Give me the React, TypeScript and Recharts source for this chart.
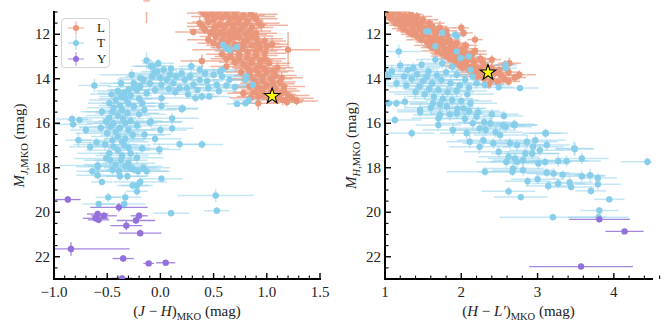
import { ErrorBar, Legend, Scatter, ScatterChart, XAxis, YAxis } from "recharts"

// [colour, abs mag, colour err, mag err]
type Pt = [number, number, number, number]

const serif = "'Liberation Serif', 'DejaVu Serif', serif"

const colL = "#e9967a"
const colT = "#87ceeb"
const colY = "#9370db"
const errL = "rgba(233,150,122,0.7)"
const errT = "rgba(135,206,235,0.5)"
const errY = "rgba(147,112,219,0.85)"

// ---- (J-H) vs M_J ----
const lJH: Pt[] = [
  [-0.13, 10.5, 0.03, 1.0],
  [0.40, 11.05, 0.15, 0.2], [0.48, 11.1, 0.12, 0.15], [0.55, 11.0, 0.2, 0.2], [0.62, 11.1, 0.15, 0.2],
  [0.70, 11.05, 0.18, 0.25], [0.78, 11.15, 0.2, 0.2], [0.85, 11.1, 0.25, 0.3], [0.58, 11.25, 0.12, 0.15],
  [0.66, 11.3, 0.15, 0.2], [0.74, 11.35, 0.2, 0.2], [0.50, 11.35, 0.1, 0.15], [0.37, 11.5, 0.12, 0.3],
  [0.45, 11.45, 0.15, 0.2], [0.82, 11.4, 0.15, 0.25], [0.90, 11.3, 0.2, 0.3],
  [0.31, 11.9, 0.17, 0.15], [0.42, 11.8, 0.15, 0.2], [0.52, 11.65, 0.12, 0.15], [0.60, 11.7, 0.15, 0.2],
  [0.68, 11.6, 0.2, 0.2], [0.76, 11.75, 0.18, 0.25], [0.86, 11.7, 0.2, 0.2], [0.95, 11.6, 0.25, 0.3],
  [0.47, 11.95, 0.12, 0.15], [0.56, 11.9, 0.15, 0.2], [0.64, 11.95, 0.15, 0.2], [0.72, 11.9, 0.18, 0.25],
  [0.80, 12.0, 0.2, 0.2], [0.90, 11.95, 0.2, 0.3],
  [0.45, 12.25, 0.2, 0.2], [0.52, 12.1, 0.15, 0.2], [0.58, 12.3, 0.12, 0.2], [0.66, 12.2, 0.15, 0.2],
  [0.74, 12.15, 0.2, 0.25], [0.82, 12.25, 0.18, 0.2], [0.90, 12.2, 0.25, 0.3], [0.98, 12.3, 0.2, 0.2],
  [0.55, 12.5, 0.12, 0.2], [0.62, 12.6, 0.15, 0.2], [0.70, 12.45, 0.2, 0.2], [0.78, 12.55, 0.18, 0.25],
  [0.86, 12.5, 0.2, 0.2], [0.94, 12.6, 0.2, 0.25], [1.05, 12.45, 0.15, 0.3], [1.20, 12.7, 0.9, 0.8],
  [0.39, 13.2, 0.2, 0.3], [0.58, 12.9, 0.15, 0.2], [0.66, 13.0, 0.15, 0.2], [0.74, 12.9, 0.2, 0.2],
  [0.82, 13.05, 0.2, 0.25], [0.90, 12.95, 0.2, 0.2], [0.98, 13.1, 0.2, 0.25], [0.70, 13.25, 0.15, 0.2],
  [0.78, 13.35, 0.15, 0.2], [0.86, 13.3, 0.2, 0.2], [0.94, 13.4, 0.25, 0.3], [1.02, 13.3, 0.2, 0.25],
  [1.10, 13.5, 0.15, 0.25], [0.62, 13.45, 0.15, 0.2],
  [0.76, 13.7, 0.15, 0.2], [0.84, 13.65, 0.15, 0.2], [0.92, 13.8, 0.2, 0.25], [1.00, 13.7, 0.2, 0.2],
  [1.08, 13.85, 0.2, 0.3], [0.80, 14.0, 0.15, 0.2], [0.88, 14.05, 0.2, 0.25], [0.96, 14.1, 0.2, 0.2],
  [1.04, 14.0, 0.2, 0.25], [1.12, 14.15, 0.15, 0.2], [0.84, 14.35, 0.15, 0.2], [0.92, 14.4, 0.2, 0.25],
  [1.00, 14.3, 0.2, 0.2], [1.08, 14.45, 0.2, 0.25],
  [0.78, 14.65, 0.15, 0.2], [0.88, 14.6, 0.2, 0.2], [0.96, 14.7, 0.2, 0.25], [1.12, 14.7, 0.15, 0.2],
  [1.20, 14.75, 0.2, 0.2], [0.92, 15.1, 0.2, 0.3], [1.15, 14.95, 0.2, 0.25], [1.19, 15.05, 0.15, 0.2],
  [1.28, 15.0, 0.2, 0.2], [0.85, 14.85, 0.2, 0.2], [1.02, 14.9, 0.15, 0.2],
  [0.44, 11.2, 0.15, 0.2], [0.52, 11.22, 0.12, 0.2], [0.70, 11.22, 0.15, 0.2], [0.88, 11.2, 0.2, 0.25],
  [0.40, 11.65, 0.15, 0.2], [0.56, 11.55, 0.12, 0.2], [0.72, 11.5, 0.15, 0.2], [0.64, 11.5, 0.15, 0.2],
  [0.80, 11.55, 0.2, 0.25], [0.92, 11.5, 0.2, 0.2], [0.50, 11.82, 0.12, 0.15], [0.68, 11.8, 0.15, 0.2],
  [0.84, 11.85, 0.2, 0.2], [0.60, 12.05, 0.15, 0.2], [0.70, 12.05, 0.15, 0.2], [0.86, 12.08, 0.2, 0.2],
  [0.50, 12.4, 0.15, 0.2], [0.62, 12.38, 0.15, 0.2], [0.78, 12.38, 0.2, 0.2], [0.92, 12.4, 0.2, 0.25],
  [1.00, 12.55, 0.2, 0.2], [0.66, 12.75, 0.15, 0.2], [0.74, 12.72, 0.15, 0.2], [0.82, 12.78, 0.2, 0.2],
  [0.90, 12.75, 0.2, 0.2], [0.98, 12.85, 0.2, 0.25], [0.62, 13.1, 0.15, 0.2], [0.74, 13.12, 0.15, 0.2],
  [0.86, 13.15, 0.2, 0.2], [0.94, 13.2, 0.2, 0.25], [0.82, 13.5, 0.15, 0.2], [0.90, 13.55, 0.2, 0.2],
  [0.98, 13.55, 0.2, 0.2], [1.06, 13.65, 0.2, 0.25], [0.84, 13.85, 0.15, 0.2], [0.96, 13.9, 0.2, 0.2],
  [1.14, 13.95, 0.2, 0.25], [0.90, 14.2, 0.15, 0.2], [1.06, 14.22, 0.2, 0.2], [1.16, 14.35, 0.2, 0.2],
  [0.96, 14.5, 0.2, 0.2], [1.04, 14.6, 0.2, 0.2], [1.16, 14.55, 0.15, 0.2], [0.92, 14.8, 0.2, 0.2],
  [1.10, 14.85, 0.2, 0.25], [1.24, 14.88, 0.2, 0.2],
]

const tJH: Pt[] = [
  [0.62, 12.62, 0.12, 0.15], [0.72, 12.57, 0.1, 0.12], [0.65, 12.72, 0.1, 0.15], [0.59, 12.47, 0.08, 0.12],
  [0.58, 13.6, 0.15, 0.2], [0.58, 13.9, 0.2, 0.15], [0.65, 14.05, 0.15, 0.2], [0.53, 14.27, 0.2, 0.15],
  [0.45, 14.42, 0.25, 0.2], [0.37, 14.05, 0.18, 0.15], [0.31, 14.27, 0.2, 0.2], [0.25, 14.42, 0.25, 0.15],
  [0.23, 14.05, 0.15, 0.2], [0.15, 13.9, 0.2, 0.3], [0.12, 14.2, 0.3, 0.2], [0.06, 14.05, 0.15, 0.15],
  [0.0, 13.97, 0.2, 0.2], [-0.03, 13.67, 0.15, 0.3], [0.03, 13.6, 0.12, 0.2], [-0.07, 13.44, 0.2, 0.25],
  [-0.02, 13.3, 0.15, 0.2], [0.01, 14.27, 0.25, 0.2], [0.29, 13.44, 0.12, 0.3], [0.37, 13.6, 0.2, 0.2],
  [0.42, 13.75, 0.15, 0.2], [0.50, 13.82, 0.25, 0.3], [0.56, 13.67, 0.15, 0.2], [0.28, 13.9, 0.2, 0.2],
  [0.20, 13.75, 0.15, 0.25], [0.09, 13.82, 0.2, 0.2], [-0.10, 14.2, 0.2, 0.2], [-0.16, 14.05, 0.25, 0.2],
  [-0.19, 14.35, 0.2, 0.15], [-0.27, 13.82, 0.3, 0.25], [-0.25, 14.2, 0.2, 0.2], [-0.22, 14.5, 0.25, 0.2],
  [-0.13, 14.65, 0.3, 0.2], [0.01, 14.87, 0.2, 0.2], [0.18, 14.42, 0.2, 0.15], [0.39, 14.8, 0.15, 0.2],
  [0.33, 14.87, 0.12, 0.2], [0.46, 14.8, 0.2, 0.15], [0.72, 15.13, 0.1, 0.15], [0.80, 15.1, 0.12, 0.15],
  [0.83, 14.95, 0.15, 0.2], [0.70, 14.38, 0.2, 0.2], [0.87, 14.27, 0.15, 0.2], [0.80, 14.05, 0.15, 0.2],
  [0.81, 13.9, 0.2, 0.25], [-0.13, 13.18, 0.05, 0.4], [-0.62, 14.3, 0.15, 0.3],
  [0.14, 14.6, 0.2, 0.2], [0.26, 14.7, 0.25, 0.2], [-0.05, 14.5, 0.3, 0.2], [0.08, 14.45, 0.2, 0.2],
  [0.35, 14.5, 0.2, 0.15], [0.55, 14.55, 0.15, 0.2], [0.62, 14.3, 0.2, 0.2], [0.44, 14.1, 0.15, 0.15],
  [0.10, 13.55, 0.2, 0.2], [-0.08, 13.9, 0.25, 0.2],
  [-0.19, 13.97, 0.2, 0.2], [-0.09, 13.44, 0.15, 0.25], [-0.06, 13.75, 0.2, 0.2], [-0.37, 14.2, 0.2, 0.2],
  [-0.25, 14.35, 0.25, 0.2], [-0.30, 14.5, 0.2, 0.2], [-0.34, 14.65, 0.25, 0.2], [-0.37, 14.8, 0.2, 0.2],
  [-0.42, 14.95, 0.25, 0.25], [-0.48, 15.1, 0.2, 0.2], [-0.45, 15.48, 0.25, 0.2], [-0.55, 15.48, 0.2, 0.2],
  [-0.51, 15.93, 0.25, 0.25], [-0.31, 15.55, 0.3, 0.2], [-0.25, 15.25, 0.2, 0.2], [-0.17, 15.1, 0.25, 0.2],
  [-0.09, 15.93, 0.3, 0.25], [0.0, 16.3, 0.25, 0.2], [0.11, 16.23, 0.2, 0.2], [0.11, 15.78, 0.25, 0.25],
  [0.21, 15.33, 0.15, 0.2], [-0.01, 17.18, 0.2, 0.25], [-0.26, 16.53, 0.3, 0.25], [-0.36, 16.83, 0.25, 0.25],
  [-0.40, 17.21, 0.3, 0.25], [-0.17, 17.13, 0.25, 0.2], [-0.28, 17.36, 0.3, 0.3], [-0.47, 17.66, 0.25, 0.25],
  [-0.59, 17.96, 0.2, 0.25], [-0.51, 17.58, 0.3, 0.25], [-0.37, 17.66, 0.25, 0.3], [-0.33, 16.0, 0.3, 0.2],
  [-0.42, 16.38, 0.25, 0.2], [-0.45, 16.76, 0.3, 0.25], [-0.34, 16.98, 0.25, 0.25], [-0.47, 16.16, 0.3, 0.2],
  [-0.10, 15.96, 0.3, 0.2], [0.20, 15.36, 0.15, 0.2], [0.01, 15.22, 0.2, 0.2], [0.39, 16.95, 0.2, 0.2],
  [0.18, 16.94, 0.25, 0.2],
  [-0.40, 14.55, 0.2, 0.2], [-0.33, 14.9, 0.25, 0.2], [-0.38, 15.2, 0.2, 0.2], [-0.44, 15.3, 0.25, 0.25],
  [-0.36, 15.4, 0.2, 0.2], [-0.30, 15.1, 0.25, 0.2], [-0.40, 15.65, 0.3, 0.25], [-0.48, 15.75, 0.25, 0.2],
  [-0.35, 15.8, 0.2, 0.2], [-0.28, 15.9, 0.3, 0.25], [-0.44, 16.0, 0.25, 0.2], [-0.38, 16.2, 0.2, 0.25],
  [-0.30, 16.3, 0.25, 0.2], [-0.50, 16.45, 0.3, 0.25], [-0.40, 16.6, 0.25, 0.2], [-0.33, 16.7, 0.2, 0.25],
  [-0.52, 16.95, 0.3, 0.25], [-0.44, 17.05, 0.25, 0.2], [-0.30, 17.1, 0.2, 0.25], [-0.48, 17.35, 0.3, 0.3],
  [-0.36, 17.45, 0.25, 0.25], [-0.22, 17.55, 0.25, 0.25], [-0.42, 17.85, 0.3, 0.25], [-0.30, 17.8, 0.25, 0.25],
  [-0.20, 15.6, 0.25, 0.2], [-0.22, 16.1, 0.3, 0.25], [-0.15, 16.5, 0.25, 0.2], [-0.56, 16.2, 0.2, 0.2],
  [-0.28, 14.75, 0.2, 0.2], [-0.20, 14.9, 0.25, 0.2], [-0.46, 14.7, 0.2, 0.2], [-0.15, 15.4, 0.3, 0.25],
  [-0.05, 16.7, 0.25, 0.2],
  [-0.83, 15.81, 0.15, 0.2], [-0.76, 15.85, 0.12, 0.15], [-0.82, 16.05, 0.18, 0.2], [-0.70, 16.3, 0.15, 0.2],
  [-0.77, 16.76, 0.12, 0.3], [-0.60, 16.86, 0.15, 0.2], [-0.66, 17.06, 0.2, 0.2],
  [-0.64, 18.16, 0.15, 0.2], [-0.59, 17.9, 0.35, 0.2], [-0.39, 18.16, 0.3, 0.2], [-0.33, 17.93, 0.35, 0.25],
  [-0.25, 18.08, 0.25, 0.2], [-0.21, 18.16, 0.3, 0.2], [-0.13, 18.16, 0.2, 0.2], [-0.38, 18.38, 0.25, 0.2],
  [-0.31, 18.38, 0.2, 0.2], [-0.55, 18.64, 0.1, 0.15], [-0.19, 18.64, 0.25, 0.2], [0.01, 18.49, 0.2, 0.15],
  [-0.26, 18.8, 0.15, 0.2], [-0.22, 18.8, 0.15, 0.2], [-0.22, 19.06, 0.1, 0.2], [-0.49, 19.33, 0.12, 0.2],
  [-0.33, 19.33, 0.15, 0.25], [-0.58, 19.63, 0.15, 0.15], [-0.34, 19.63, 0.2, 0.25], [0.52, 19.25, 0.36, 0.3],
  [0.53, 19.93, 0.12, 0.15], [0.10, 20.04, 0.17, 0.15], [-0.16, 18.0, 0.25, 0.2], [-0.45, 18.1, 0.2, 0.2],
  [-0.28, 18.0, 0.25, 0.2], [-0.59, 18.34, 0.2, 0.2],
]

const yJH: Pt[] = [
  [-0.87, 19.43, 0.12, 0.15], [-0.59, 20.08, 0.1, 0.15], [-0.61, 20.27, 0.12, 0.15], [-0.58, 20.34, 0.1, 0.15],
  [-0.53, 20.16, 0.12, 0.15], [-0.39, 19.78, 0.27, 0.2], [-0.20, 20.16, 0.08, 0.15], [-0.23, 20.37, 0.18, 0.15],
  [-0.32, 20.6, 0.15, 0.2], [-0.19, 20.94, 0.2, 0.15], [-0.84, 21.65, 0.55, 0.3], [-0.35, 22.08, 0.1, 0.15],
  [-0.11, 22.3, 0.05, 0.1], [0.05, 22.27, 0.09, 0.1], [-0.36, 22.97, 0.1, 0.15],
]

const starJH = [{ x: 1.05, y: 14.78 }]

// ---- (H-L') vs M_H ----
const lHL: Pt[] = [
  [1.02, 11.05, 0.15, 0.2], [1.10, 11.1, 0.2, 0.2], [1.18, 11.0, 0.15, 0.25], [1.26, 11.15, 0.2, 0.2],
  [1.34, 11.1, 0.15, 0.2], [1.42, 11.2, 0.2, 0.25], [1.08, 11.3, 0.15, 0.2], [1.16, 11.35, 0.2, 0.2],
  [1.24, 11.4, 0.15, 0.25], [1.32, 11.3, 0.2, 0.2], [1.40, 11.45, 0.15, 0.2], [1.50, 11.35, 0.2, 0.25],
  [1.20, 11.6, 0.15, 0.2], [1.28, 11.55, 0.2, 0.2], [1.36, 11.65, 0.15, 0.25], [1.44, 11.6, 0.2, 0.2],
  [1.52, 11.7, 0.15, 0.2], [1.62, 11.65, 0.2, 0.25], [1.30, 11.85, 0.15, 0.2], [1.40, 11.9, 0.2, 0.2],
  [1.48, 11.8, 0.15, 0.25], [1.56, 11.95, 0.2, 0.2], [1.66, 11.9, 0.15, 0.2], [1.72, 11.71, 0.2, 0.3],
  [1.80, 11.85, 0.15, 0.2],
  [1.42, 12.1, 0.15, 0.2], [1.50, 12.05, 0.2, 0.2], [1.58, 12.15, 0.15, 0.25], [1.66, 12.1, 0.2, 0.2],
  [1.74, 12.2, 0.15, 0.2], [1.81, 12.02, 0.2, 0.3], [2.03, 11.94, 0.12, 0.2], [2.0, 11.71, 0.1, 0.2],
  [1.55, 12.35, 0.15, 0.2], [1.63, 12.3, 0.2, 0.2], [1.71, 12.4, 0.15, 0.25], [1.79, 12.35, 0.2, 0.2],
  [1.88, 12.45, 0.15, 0.2], [1.94, 12.39, 0.12, 0.25], [2.18, 12.24, 0.1, 0.2],
  [1.62, 12.6, 0.15, 0.2], [1.70, 12.55, 0.2, 0.2], [1.78, 12.65, 0.15, 0.25], [1.86, 12.6, 0.2, 0.2],
  [1.94, 12.7, 0.15, 0.2], [2.02, 12.65, 0.2, 0.25], [1.74, 12.85, 0.15, 0.2], [1.82, 12.9, 0.2, 0.2],
  [1.90, 12.8, 0.15, 0.25], [1.98, 12.95, 0.2, 0.2], [2.06, 12.85, 0.15, 0.2], [2.14, 12.9, 0.2, 0.25],
  [1.85, 13.1, 0.15, 0.2], [1.93, 13.05, 0.2, 0.2], [2.01, 13.2, 0.15, 0.25], [2.09, 13.15, 0.2, 0.2],
  [2.17, 13.25, 0.15, 0.2], [2.25, 13.1, 0.2, 0.25], [2.40, 13.14, 0.12, 0.2], [2.57, 13.37, 0.12, 0.2],
  [2.63, 13.3, 0.15, 0.25], [1.98, 13.4, 0.2, 0.2], [2.06, 13.35, 0.15, 0.2], [2.14, 13.45, 0.2, 0.25],
  [2.22, 13.5, 0.15, 0.2], [2.30, 13.4, 0.2, 0.2],
  [2.10, 13.6, 0.15, 0.2], [2.18, 13.7, 0.2, 0.25], [2.26, 13.65, 0.15, 0.2], [2.34, 13.8, 0.2, 0.2],
  [2.44, 13.75, 0.15, 0.25], [2.52, 13.85, 0.2, 0.2], [2.62, 13.7, 0.15, 0.2], [2.76, 13.82, 0.22, 0.2],
  [2.20, 13.9, 0.2, 0.2], [2.30, 14.0, 0.15, 0.25], [2.40, 14.05, 0.2, 0.2], [2.48, 14.15, 0.15, 0.2],
  [2.62, 14.12, 0.15, 0.2], [2.36, 14.25, 0.2, 0.2],
  [1.06, 11.2, 0.15, 0.2], [1.22, 11.25, 0.2, 0.2], [1.38, 11.3, 0.15, 0.2], [1.14, 11.5, 0.15, 0.2],
  [1.30, 11.45, 0.2, 0.2], [1.46, 11.5, 0.15, 0.25], [1.58, 11.5, 0.2, 0.2], [1.24, 11.75, 0.15, 0.2],
  [1.36, 11.78, 0.2, 0.2], [1.46, 11.7, 0.15, 0.2], [1.60, 11.8, 0.2, 0.2], [1.70, 11.8, 0.15, 0.25],
  [1.36, 12.0, 0.15, 0.2], [1.48, 12.25, 0.2, 0.2], [1.60, 12.22, 0.15, 0.2], [1.70, 12.28, 0.2, 0.2],
  [1.84, 12.25, 0.15, 0.25], [1.58, 12.5, 0.2, 0.2], [1.74, 12.48, 0.15, 0.2], [1.90, 12.55, 0.2, 0.2],
  [2.06, 12.5, 0.15, 0.2], [1.68, 12.75, 0.2, 0.2], [1.86, 12.75, 0.15, 0.2], [2.02, 12.78, 0.2, 0.25],
  [2.18, 12.75, 0.15, 0.2], [1.80, 12.98, 0.2, 0.2], [1.96, 13.0, 0.15, 0.2], [2.12, 13.05, 0.2, 0.2],
  [2.28, 13.25, 0.15, 0.2], [1.92, 13.25, 0.2, 0.2], [2.40, 13.5, 0.2, 0.25], [2.50, 13.6, 0.15, 0.2],
  [2.02, 13.5, 0.2, 0.2], [2.26, 13.85, 0.15, 0.2], [2.56, 14.0, 0.2, 0.2], [2.70, 13.95, 0.15, 0.2],
  [2.16, 13.8, 0.2, 0.2],
]

const tHL: Pt[] = [
  [1.57, 11.87, 0.1, 0.15], [1.75, 11.94, 0.1, 0.15], [1.92, 12.02, 0.12, 0.15], [1.66, 12.54, 0.15, 0.2],
  [1.94, 12.77, 0.12, 0.15], [1.99, 13.07, 0.15, 0.2], [2.10, 13.0, 0.12, 0.2], [1.18, 12.77, 0.3, 0.3],
  [1.54, 11.87, 0.1, 0.15], [1.94, 12.09, 0.1, 0.15],
  [1.02, 13.82, 0.3, 0.3], [1.09, 13.67, 0.25, 0.3], [1.04, 13.9, 0.2, 0.2], [1.37, 13.52, 0.35, 0.25],
  [1.48, 13.37, 0.3, 0.2], [1.57, 13.67, 0.4, 0.25], [1.66, 13.14, 0.25, 0.2], [1.75, 13.3, 0.3, 0.25],
  [1.88, 13.45, 0.35, 0.2], [1.94, 13.82, 0.3, 0.25], [2.05, 14.05, 0.35, 0.2], [2.12, 13.6, 0.25, 0.2],
  [2.58, 13.37, 0.15, 0.2], [2.58, 13.52, 0.15, 0.2], [2.31, 14.27, 0.3, 0.2], [2.49, 14.38, 0.2, 0.15],
  [2.77, 14.42, 0.25, 0.15], [1.15, 15.1, 0.15, 0.2], [1.26, 15.03, 0.3, 0.25], [1.46, 15.4, 0.3, 0.3],
  [1.13, 15.85, 0.35, 0.2], [1.35, 16.45, 0.3, 0.2], [1.70, 15.78, 0.35, 0.3], [1.70, 16.08, 0.3, 0.25],
  [2.56, 15.67, 0.25, 0.2], [2.69, 16.08, 0.3, 0.2], [2.58, 16.16, 0.35, 0.25], [3.10, 16.45, 0.3, 0.2],
  [3.12, 16.98, 0.3, 0.25], [3.48, 17.13, 0.25, 0.3], [3.58, 17.58, 0.35, 0.25], [2.97, 16.76, 0.4, 0.25],
  [2.93, 17.36, 0.35, 0.25], [4.44, 17.73, 0.35, 0.2],
  [1.46, 15.48, 0.3, 0.2], [1.72, 15.63, 0.35, 0.25], [1.89, 16.3, 0.4, 0.3], [2.07, 16.45, 0.35, 0.25],
  [2.11, 16.83, 0.3, 0.3], [2.24, 16.23, 0.4, 0.25], [2.29, 16.76, 0.35, 0.25], [2.42, 16.9, 0.4, 0.25],
  [2.51, 16.53, 0.35, 0.3], [2.70, 16.08, 0.3, 0.2], [2.49, 17.28, 0.45, 0.25], [2.62, 17.51, 0.4, 0.25],
  [2.73, 17.73, 0.35, 0.3], [2.68, 18.03, 0.4, 0.25], [2.31, 18.18, 0.5, 0.2], [2.62, 19.06, 0.35, 0.2],
  [2.24, 17.06, 0.4, 0.3], [1.94, 15.55, 0.35, 0.25], [2.03, 15.33, 0.3, 0.25], [2.20, 15.7, 0.4, 0.3],
  [2.38, 16.0, 0.35, 0.25], [1.81, 15.25, 0.35, 0.3], [1.63, 15.1, 0.3, 0.3],
  [2.55, 16.11, 0.3, 0.2], [2.70, 16.04, 0.25, 0.2], [3.11, 16.45, 0.2, 0.2], [3.49, 17.16, 0.25, 0.3],
  [3.38, 17.7, 0.45, 0.25], [3.27, 17.7, 0.4, 0.25], [3.69, 18.34, 0.2, 0.3], [3.58, 18.38, 0.3, 0.25],
  [3.79, 18.46, 0.25, 0.2], [3.79, 18.74, 0.3, 0.25], [3.70, 19.04, 0.2, 0.2], [3.94, 19.42, 0.2, 0.15],
  [3.81, 19.92, 0.25, 0.15], [3.80, 20.22, 0.4, 0.15], [3.20, 20.22, 0.7, 0.15], [2.78, 19.32, 0.35, 0.15],
  [3.44, 18.86, 0.3, 0.2], [3.42, 18.66, 0.3, 0.3], [3.27, 18.71, 0.35, 0.2], [3.14, 18.82, 0.3, 0.2],
  [3.0, 18.52, 0.35, 0.2], [2.87, 18.61, 0.3, 0.2], [3.33, 18.31, 0.35, 0.2], [3.21, 18.26, 0.35, 0.25],
  [3.12, 18.22, 0.3, 0.2], [2.81, 18.11, 0.4, 0.25], [2.67, 18.18, 0.45, 0.2], [3.01, 17.81, 0.4, 0.25],
  [3.10, 17.74, 0.35, 0.2], [2.81, 17.66, 0.4, 0.3], [2.70, 17.58, 0.35, 0.25], [2.59, 17.74, 0.4, 0.25],
  [2.84, 17.36, 0.45, 0.25], [3.03, 17.21, 0.4, 0.25], [2.73, 16.98, 0.35, 0.25], [2.86, 16.83, 0.4, 0.3],
  [2.64, 16.9, 0.35, 0.25], [2.94, 17.06, 0.4, 0.25],
  [1.30, 13.6, 0.35, 0.25], [1.42, 13.8, 0.4, 0.25], [1.55, 13.9, 0.35, 0.25], [1.68, 13.85, 0.4, 0.3],
  [1.80, 13.7, 0.35, 0.25], [1.35, 14.0, 0.4, 0.25], [1.50, 14.1, 0.35, 0.3], [1.62, 14.2, 0.4, 0.25],
  [1.74, 14.05, 0.35, 0.25], [1.86, 14.2, 0.4, 0.3], [1.98, 14.3, 0.35, 0.25], [1.45, 14.35, 0.4, 0.25],
  [1.58, 14.45, 0.35, 0.3], [1.70, 14.5, 0.4, 0.25], [1.82, 14.6, 0.35, 0.25], [1.94, 14.55, 0.4, 0.3],
  [2.08, 14.7, 0.35, 0.25], [1.52, 14.7, 0.4, 0.25], [1.64, 14.8, 0.35, 0.3], [1.76, 14.9, 0.4, 0.25],
  [1.88, 14.95, 0.35, 0.25], [2.00, 15.0, 0.4, 0.3], [2.12, 15.1, 0.35, 0.25], [1.72, 15.15, 0.4, 0.25],
  [1.95, 15.35, 0.35, 0.3], [2.10, 15.45, 0.4, 0.25], [2.22, 15.5, 0.35, 0.25], [1.85, 15.6, 0.4, 0.3],
  [2.05, 15.8, 0.35, 0.25], [2.15, 16.0, 0.4, 0.25], [2.30, 15.95, 0.35, 0.3], [2.32, 16.3, 0.4, 0.25],
  [2.45, 16.4, 0.35, 0.25], [1.25, 13.9, 0.35, 0.25], [1.15, 14.2, 0.3, 0.25], [1.40, 14.6, 0.35, 0.3],
  [1.28, 14.3, 0.3, 0.25], [2.20, 14.2, 0.35, 0.25], [2.10, 14.4, 0.3, 0.25], [1.60, 15.3, 0.35, 0.3],
  [2.40, 15.6, 0.35, 0.25], [2.15, 13.9, 0.3, 0.2], [1.20, 13.4, 0.3, 0.25], [1.05, 15.1, 0.2, 0.2],
]

const yHL: Pt[] = [
  [3.81, 20.32, 0.4, 0.1], [4.14, 20.86, 0.25, 0.1], [3.57, 22.44, 0.68, 0.1],
]

const starHL = [{ x: 2.35, y: 13.72 }]

// ---- axes ----
const jhMajor = [-1, -0.5, 0, 0.5, 1, 1.5]
const hlMajor = [1, 2, 3, 4]
const magMajor = [12, 14, 16, 18, 20, 22]
const magDomain = [11, 23]

const steps = (lo: number, hi: number, step: number) =>
  Array.from({ length: Math.round((hi - lo) / step) + 1 }, (_, i) => +(lo + i * step).toFixed(3))

// asymmetric [below, above] errors, cut at the frame like the points are
const cut = (v: number, e: number, lo: number, hi: number) => [Math.min(e, v - lo), Math.min(e, hi - v)]

const rows = (pts: Pt[], xd: number[]) =>
  pts.map(([x, y, xe, ye]) => ({
    x,
    y,
    xErr: cut(x, xe, xd[0], xd[1]),
    yErr: cut(y, ye, magDomain[0], magDomain[1]),
  }))

const fmtJH = (v: number) => v.toFixed(1).replace("-", "\u2212")
const fmtInt = (v: number) => String(v)

function AxisTick(props: any) {
  const { x, y, payload, side, majors, fmt } = props
  const v = payload.value
  const major = majors.some((m: number) => Math.abs(m - v) < 1e-6)
  const len = major ? 6 : 3.5
  const sw = major ? 1.4 : 1.1
  let end = { x2: x, y2: y - len }
  if (side === "top") end = { x2: x, y2: y + len }
  if (side === "left") end = { x2: x + len, y2: y }
  if (side === "right") end = { x2: x - len, y2: y }
  const txt = { fontFamily: serif, fontSize: 15, fill: "#222" }
  return (
    <g>
      <line x1={x} y1={y} {...end} stroke="#000" strokeWidth={sw} />
      {major && side === "bottom" && (
        <text x={x} y={y + 18} textAnchor="middle" style={txt}>
          {fmt(v)}
        </text>
      )}
      {major && side === "left" && (
        <text x={x - 4} y={y + 5} textAnchor="end" style={txt}>
          {fmt(v)}
        </text>
      )}
    </g>
  )
}

function XLab(props: any) {
  const { viewBox, a, b } = props
  return (
    <text x={viewBox.x + viewBox.width / 2} y={viewBox.y + 37} textAnchor="middle"
      style={{ fontFamily: serif, fontSize: 15, fill: "#222" }}>
      <tspan>(</tspan>
      <tspan fontStyle="italic">{a}</tspan>
      <tspan> {"\u2212"} </tspan>
      <tspan fontStyle="italic">{b}</tspan>
      <tspan>)</tspan>
      <tspan fontSize={10.5} dy={3.5}>MKO</tspan>
      <tspan dy={-3.5}> (mag)</tspan>
    </text>
  )
}

function YLab(props: any) {
  const { viewBox, band } = props
  const x = viewBox.x + 24
  const y = viewBox.y + viewBox.height / 2
  return (
    <text x={x} y={y} transform={`rotate(-90 ${x} ${y})`} textAnchor="middle"
      style={{ fontFamily: serif, fontSize: 15, fill: "#222" }}>
      <tspan fontStyle="italic">M</tspan>
      <tspan fontSize={10.5} dy={3.5} fontStyle="italic">{band}</tspan>
      <tspan fontSize={10.5}>,MKO</tspan>
      <tspan dy={-3.5}> (mag)</tspan>
    </text>
  )
}

const dotShape = (color: string) => (p: any) => <circle cx={p.cx} cy={p.cy} r={3.2} fill={color} />

function StarShape(p: any) {
  const pts: string[] = []
  for (let i = 0; i < 10; i++) {
    const r = i % 2 ? 3.2 : 8.2
    const a = -Math.PI / 2 + (i * Math.PI) / 5
    pts.push(`${p.cx + r * Math.cos(a)},${p.cy + r * Math.sin(a)}`)
  }
  return <polygon points={pts.join(" ")} fill="#ffff00" stroke="#000" strokeWidth={1.1} />
}

function LegendBox(props: any) {
  const items = (props.payload || []).filter((e: any) => ["L", "T", "Y"].includes(e.value))
  return (
    <div
      style={{
        boxSizing: "border-box",
        width: 49,
        height: 50,
        border: "1px solid #d4d4d4",
        borderRadius: 4,
        background: "rgba(255,255,255,0.85)",
        padding: "1px 0 0 5px",
        fontFamily: serif,
        fontSize: 13,
        color: "#222",
      }}
    >
      {items.map((e: any) => (
        <div key={e.value} style={{ display: "flex", alignItems: "center", height: 15.5 }}>
          <svg width={18} height={14} style={{ display: "block" }}>
            <line x1={1} x2={17} y1={7} y2={7} stroke={e.color} strokeOpacity={0.55} strokeWidth={1.5} />
            <line x1={9} x2={9} y1={0} y2={14} stroke={e.color} strokeOpacity={0.55} strokeWidth={1.5} />
            <circle cx={9} cy={7} r={3} fill={e.color} />
          </svg>
          <span style={{ marginLeft: 12 }}>{e.value}</span>
        </div>
      ))}
    </div>
  )
}

const frame = { stroke: "#000", strokeWidth: 2, strokeLinecap: "square" as const }

function Panel(props: any) {
  const { xDomain, xMajor, xStep, xFmt, a, b, band, yWidth, L, T, Y, star, legend } = props
  const xTicks = steps(xDomain[0], xDomain[1], xStep)
  const yTicks = steps(magDomain[0], magDomain[1], 0.5)
  const common = { type: "number" as const, allowDataOverflow: true, interval: 0 as const, tickSize: 0, tickMargin: 0, tickLine: false, axisLine: frame }
  const series = [
    { name: "L", pts: L, color: colL, err: errL, w: 1.5 },
    { name: "T", pts: T, color: colT, err: errT, w: 1.5 },
    { name: "Y", pts: Y, color: colY, err: errY, w: 1.3 },
  ]
  return (
    <ScatterChart width={332} height={332} margin={{ top: 12, right: 12, bottom: 0, left: 0 }}>
      <XAxis {...common} xAxisId="b" dataKey="x" domain={xDomain} ticks={xTicks} height={53}
        tick={<AxisTick side="bottom" majors={xMajor} fmt={xFmt} />} label={<XLab a={a} b={b} />} />
      <XAxis {...common} xAxisId="t" orientation="top" dataKey="x" domain={xDomain} ticks={xTicks} height={0}
        tick={<AxisTick side="top" majors={xMajor} fmt={xFmt} />} />
      <YAxis {...common} yAxisId="l" dataKey="y" domain={magDomain} reversed ticks={yTicks} width={yWidth}
        tick={<AxisTick side="left" majors={magMajor} fmt={fmtInt} />} label={<YLab band={band} />} />
      <YAxis {...common} yAxisId="r" orientation="right" dataKey="y" domain={magDomain} reversed ticks={yTicks} width={0}
        tick={<AxisTick side="right" majors={magMajor} fmt={fmtInt} />} />
      {series.map((s) => (
        <Scatter key={s.name} xAxisId="b" yAxisId="l" name={s.name} data={rows(s.pts, xDomain)} fill={s.color}
          shape={dotShape(s.color)} isAnimationActive={false}>
          <ErrorBar dataKey="xErr" direction="x" width={0} stroke={s.err} strokeWidth={s.w} />
          <ErrorBar dataKey="yErr" direction="y" width={0} stroke={s.err} strokeWidth={s.w} />
        </Scatter>
      ))}
      <Scatter xAxisId="t" yAxisId="r" name="star" legendType="none" data={star} shape={StarShape} isAnimationActive={false} />
      {legend && (
        <Legend layout="vertical" align="center" verticalAlign="middle" content={LegendBox}
          wrapperStyle={{ left: 61, top: 18, width: 49, height: 50 }} />
      )}
    </ScatterChart>
  )
}

export default function App() {
  return (
    <div style={{ position: "absolute", left: 0, top: 0, width: 664, height: 332, background: "#fff" }}>
      <div style={{ position: "absolute", left: 0, top: 0 }}>
        <Panel xDomain={[-1, 1.5]} xMajor={jhMajor} xStep={0.1} xFmt={fmtJH} a="J" b="H" band="J" yWidth={54}
          L={lJH} T={tJH} Y={yJH} star={starJH} legend />
      </div>
      <div style={{ position: "absolute", left: 332, top: 0 }}>
        <Panel xDomain={[1, 4.5]} xMajor={hlMajor} xStep={0.2} xFmt={fmtInt} a="H" b={"L\u2032"} band="H" yWidth={53}
          L={lHL} T={tHL} Y={yHL} star={starHL} legend={false} />
      </div>
    </div>
  )
}
